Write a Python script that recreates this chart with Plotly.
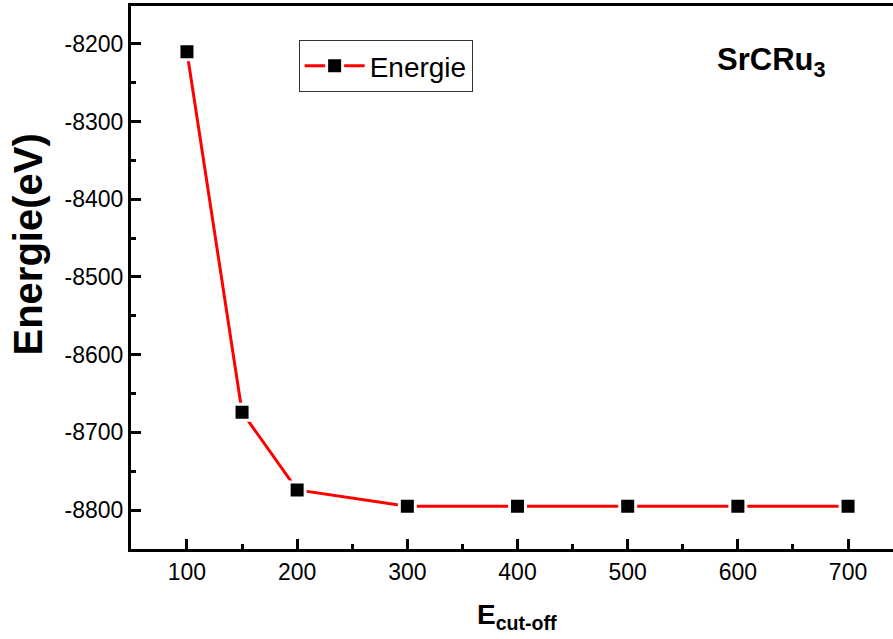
import plotly.graph_objects as go

cutoff = [100, 150, 200, 300, 400, 500, 600, 700]
energie = [-8210, -8674, -8774, -8795, -8795, -8795, -8795, -8795]
x_ticks = [100, 200, 300, 400, 500, 600, 700]
y_ticks = [-8200, -8300, -8400, -8500, -8600, -8700, -8800]
y_ticklabels = [str(v) for v in y_ticks]

font_family = "Liberation Sans, Arial, sans-serif"

fig = go.Figure()
fig.add_trace(go.Scatter(
    x=cutoff, y=energie, mode="lines+markers", name="Energie",
    line=dict(color="#ff0000", width=3),
    marker=dict(symbol="square", size=16, color="black",
                line=dict(color="white", width=3)),
))

fig.update_layout(
    width=893, height=639,
    margin=dict(l=131, r=0, t=6, b=90),
    plot_bgcolor="white", paper_bgcolor="white",
    font=dict(family=font_family, color="black"),
    showlegend=True,
    legend=dict(x=0.22, y=0.9375, xanchor="left", yanchor="top",
                bordercolor="#333333", borderwidth=1, bgcolor="white",
                font=dict(size=28, family=font_family), itemwidth=60,
                tracegroupgap=0),
)

fig.update_xaxes(
    range=[49.2, 740.8], tickvals=x_ticks, ticks="inside", ticklen=10,
    tickwidth=3, tickcolor="black", showline=True, linewidth=3,
    linecolor="black", mirror=True, showgrid=False, zeroline=False,
    tickfont=dict(size=23, family=font_family),
    minor=dict(dtick=50, tick0=50, ticks="inside", ticklen=5, tickwidth=3,
               tickcolor="black", showgrid=False),
)
fig.update_yaxes(
    range=[-8850.1, -8151.2], tickvals=y_ticks, ticktext=y_ticklabels,
    ticks="inside", ticklen=10,
    tickwidth=3, tickcolor="black", showline=True, linewidth=3,
    linecolor="black", mirror=False, showgrid=False, zeroline=False,
    tickfont=dict(size=23, family=font_family),
    minor=dict(dtick=50, tick0=-8250, ticks="inside", ticklen=5, tickwidth=3,
               tickcolor="black", showgrid=False),
)

fig.add_annotation(text="<b>SrCRu<sub>3</sub></b>", xref="paper", yref="paper",
                   x=0.841, y=0.897, showarrow=False, xanchor="center",
                   yanchor="middle", font=dict(size=31, family=font_family))
fig.add_annotation(text="<b>E<sub>cut-off</sub></b>", xref="paper", yref="paper",
                   x=0.507, y=-0.125, showarrow=False, yanchor="middle",
                   xanchor="center", font=dict(size=28, family=font_family))
fig.add_annotation(text="<b>Energie(eV)</b>", xref="paper", yref="paper",
                   x=-0.135, y=0.561, showarrow=False, textangle=-90,
                   xanchor="center", yanchor="middle",
                   font=dict(size=40, family=font_family))

fig.write_html("out.html")
